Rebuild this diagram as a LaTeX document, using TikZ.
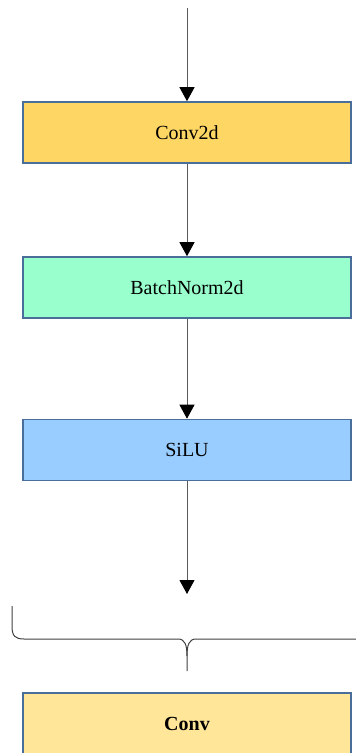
\documentclass[tikz,border=0pt]{standalone}
\usepackage{fontspec}
\setmainfont{Liberation Serif}
\usetikzlibrary{arrows.meta}
\definecolor{edgeblue}{HTML}{4A6E9A}
\definecolor{convfill}{HTML}{FDD663}
\definecolor{bnfill}{HTML}{99FFCC}
\definecolor{silufill}{HTML}{99CCFF}
\definecolor{blockfill}{HTML}{FFE699}
\definecolor{linkgray}{HTML}{5A5A5A}
\tikzset{
  layer/.style={draw=edgeblue, line width=1.6pt, minimum width=328pt, minimum height=61pt,
    inner sep=0pt, font=\fontsize{20}{24}\selectfont},
  flow/.style={draw=linkgray, line width=1pt,
    -{Triangle[length=14pt,width=15pt,fill=black,color=black]}},
  brace/.style={draw=black!75, line width=1pt}
}
\begin{document}
\begin{tikzpicture}[x=1pt, y=-1pt]
  \useasboundingbox (0,0) rectangle (356,753);
  \clip (0,0) rectangle (356,753);

  % layers of the block
  \node[layer, fill=convfill] (conv2d) at (187,132.5) {Conv2d};
  \node[layer, fill=bnfill] (bn) at (187,287.5) {BatchNorm2d};
  \node[layer, fill=silufill] (silu) at (187,450) {SiLU};
  \node[layer, fill=blockfill, font=\fontsize{20}{24}\selectfont\bfseries] (conv) at (187,723.5) {Conv};

  % data flow
  \coordinate (in) at (187,8);
  \coordinate (out) at (187,594);
  \draw[flow] (in) -- (conv2d.north);
  \draw[flow] (conv2d.south) -- (bn.north);
  \draw[flow] (bn.south) -- (silu.north);
  \draw[flow] (silu.south) -- (out);

  % brace grouping the layers into one block
  \coordinate (bl) at (12,606);
  \coordinate (tip) at (187,671);
  \draw[brace] (bl) -- (12,626) .. controls (12,636) and (15,639) .. (24,639)
    -- (178,639) .. controls (185,639) and (187,645) .. (187,656) -- (tip);
  \draw[brace] (187,656) .. controls (187,645) and (189,639) .. (196,639)
    -- (362,639);
\end{tikzpicture}
\end{document}
